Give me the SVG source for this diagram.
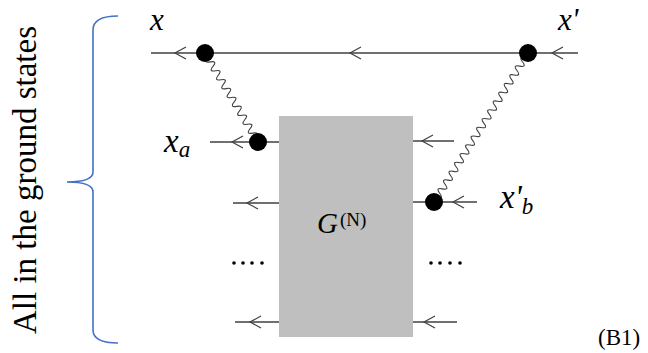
<svg xmlns="http://www.w3.org/2000/svg" width="648" height="353" viewBox="0 0 648 353">
<style>
.ln{stroke:#404040;stroke-width:1.3;fill:none}
.chev{stroke:#404040;stroke-width:1.2;fill:none}
.wave{stroke:#404040;stroke-width:1.1;fill:none}
.dot{fill:#000}
.math{font-family:"Liberation Serif","DejaVu Serif",serif;font-style:italic;fill:#000}
.tnr{font-family:"Liberation Serif","Times New Roman",serif;fill:#000}
.dots{fill:#000}
</style>
<defs>
<path id="chv" d="M11,-6 L0,0 L11,6"/>
</defs>
<rect width="648" height="353" fill="#fff"/>

<g id="bracket">
<path d="M118,16 Q93,16 93,30 L93,172 Q93,182 67,182 Q93,182 93,192 L93,330 Q93,343 118,343" fill="none" stroke="#4472c4" stroke-width="1.6"/>
<text class="tnr" font-size="33" text-anchor="middle" transform="translate(36,180) rotate(-90)">All in the ground states</text>
</g>

<g id="box">
<rect x="279" y="116" width="134" height="221" fill="#bfbfbf"/>
<text class="tnr" x="317" y="233" font-size="29" font-style="italic">G</text>
<text class="tnr" x="340" y="226" font-size="19">(N)</text>
</g>

<g id="connectors">
<line class="ln" x1="151" y1="53" x2="578" y2="53"/>
<use href="#chv" class="chev" x="175" y="53"/>
<use href="#chv" class="chev" x="350" y="53"/>
<use href="#chv" class="chev" x="552" y="53"/>

<line class="ln" x1="210" y1="142" x2="279" y2="142"/>
<use href="#chv" class="chev" x="232" y="142"/>

<line class="ln" x1="413" y1="141" x2="454" y2="141"/>
<use href="#chv" class="chev" x="422" y="141"/>

<line class="ln" x1="413" y1="202" x2="477" y2="202"/>
<use href="#chv" class="chev" x="453" y="202"/>

<line class="ln" x1="233" y1="203" x2="279" y2="203"/>
<use href="#chv" class="chev" x="247" y="203"/>

<line class="ln" x1="235" y1="322" x2="279" y2="322"/>
<use href="#chv" class="chev" x="250" y="322"/>

<line class="ln" x1="413" y1="322" x2="457" y2="322"/>
<use href="#chv" class="chev" x="424" y="322"/>

<path class="wave" transform="translate(205,53) rotate(59.2)" d="M0,0 q2.59,-7 5.18,0 t5.18,0 t5.18,0 t5.18,0 t5.18,0 t5.18,0 t5.18,0 t5.18,0 t5.18,0 t5.18,0 t5.18,0 t5.18,0 t5.18,0 t5.18,0 t5.18,0 t5.18,0 t5.18,0 t5.18,0 t5.18,0 t5.18,0"/>
<path class="wave" transform="translate(528,53) rotate(122.2)" d="M0,0 q2.59,-7 5.18,0 t5.18,0 t5.18,0 t5.18,0 t5.18,0 t5.18,0 t5.18,0 t5.18,0 t5.18,0 t5.18,0 t5.18,0 t5.18,0 t5.18,0 t5.18,0 t5.18,0 t5.18,0 t5.18,0 t5.18,0 t5.18,0 t5.18,0 t5.18,0 t5.18,0 t5.18,0 t5.18,0 t5.18,0 t5.18,0 t5.18,0 t5.18,0 t5.18,0 t5.18,0 t5.18,0 t5.18,0 t5.18,0 t5.18,0"/>
</g>

<g id="vertices">
<circle class="dot" cx="205" cy="53" r="9"/>
<circle class="dot" cx="528" cy="53" r="9"/>
<circle class="dot" cx="258" cy="142" r="9"/>
<circle class="dot" cx="434" cy="202" r="9"/>
</g>

<g id="ellipses">
<circle class="dots" cx="234" cy="263" r="1.8"/>
<circle class="dots" cx="243" cy="263" r="1.8"/>
<circle class="dots" cx="252" cy="263" r="1.8"/>
<circle class="dots" cx="262" cy="263" r="1.8"/>
<circle class="dots" cx="431" cy="263" r="1.8"/>
<circle class="dots" cx="440" cy="263" r="1.8"/>
<circle class="dots" cx="450" cy="263" r="1.8"/>
<circle class="dots" cx="460" cy="263" r="1.8"/>
</g>

<g id="labels">
<text class="math" x="150" y="30" font-size="31">x</text>
<text class="math" x="558" y="30" font-size="31">x'</text>
<text class="math" x="164" y="152" font-size="33">x<tspan font-size="23" dy="5">a</tspan></text>
<text class="math" x="500" y="208" font-size="33">x'<tspan font-size="23" dy="6">b</tspan></text>
<text class="tnr" x="598" y="345" font-size="23">(B1)</text>
</g>
</svg>
